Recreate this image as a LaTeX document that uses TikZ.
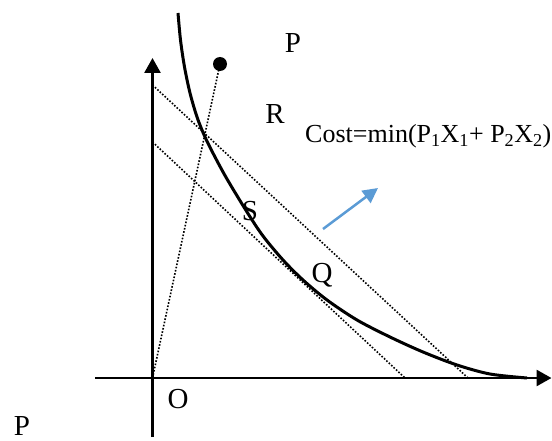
\documentclass[tikz,border=0pt]{standalone}
\usepackage{fontspec}
\setmainfont{Liberation Serif}
\usetikzlibrary{arrows.meta}
\definecolor{arrowblue}{RGB}{91,155,213}
\tikzset{
  axisline/.style={line width=2.7pt,-{Triangle[length=15pt,width=16pt]}},
  curveline/.style={line width=3pt},
  dotline/.style={line width=1.6pt,dash pattern=on 1.6pt off 1.7pt},
  lbl/.style={font=\fontsize{29}{31}\selectfont,inner sep=0pt,anchor=base},
  costlbl/.style={font=\fontsize{26}{28}\selectfont,inner sep=0pt,anchor=base west},
  bluearrow/.style={draw=arrowblue,line width=2.5pt,-{Triangle[length=15pt,width=15pt]}}
}
\begin{document}
\begin{tikzpicture}[x=1pt,y=-1pt]
\useasboundingbox (0,0) rectangle (552,441);
% coordinates
\coordinate (origin) at (152.5,378);
\coordinate (ybot) at (152.5,437);
\coordinate (ytip) at (152.5,58);
\coordinate (xleft) at (95,378);
\coordinate (xtip) at (551.5,378);
\coordinate (u1) at (152.5,85);
\coordinate (u2) at (468,378);
\coordinate (l1) at (152.5,142);
\coordinate (l2) at (405,378);
\coordinate (b1) at (323,229);
\coordinate (b2) at (378,188);
% axes
\draw[axisline] (ybot) -- (ytip);
\draw[axisline] (xleft) -- (xtip);
% dotted lines
\draw[dotline] (u1) -- (u2);
\draw[dotline] (l1) -- (l2);
\node[circle,fill=black,inner sep=0pt,minimum size=14pt] (dot) at (220,64) {};
\draw[dotline] (origin) -- (dot.center);
% curve
\draw[curveline] plot[smooth,tension=0.5] coordinates {
 (178,13) (180.5,40) (184.5,67) (190,93) (197,117) (205,137) (215,157)
 (227,179) (247,212) (263,236) (283,260) (303,280) (327,300) (357,320)
 (390,337) (423,352) (457,365) (490,374) (527,378)};
% blue arrow
\draw[bluearrow] (b1) -- (b2);
% labels
\node[lbl] (ptop) at (293,53) {P};
\node[lbl] (r) at (275,124) {R};
\node[costlbl] (cost) at (305,143) {Cost=min(P\textsubscript{1}X\textsubscript{1}+ P\textsubscript{2}X\textsubscript{2})};
\node[lbl] (s) at (250,220) {S};
\node[lbl] (q) at (322,282) {Q};
\node[lbl] (o) at (178,408) {O};
\node[lbl] (pbot) at (22,435) {P};
\end{tikzpicture}
\end{document}
